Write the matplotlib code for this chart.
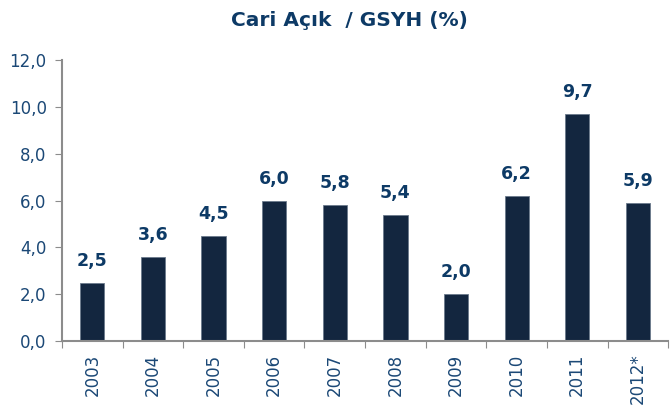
import matplotlib
matplotlib.use("Agg")
import matplotlib.pyplot as plt

years = ["2003", "2004", "2005", "2006", "2007", "2008", "2009", "2010", "2011", "2012*"]
values = [2.5, 3.6, 4.5, 6.0, 5.8, 5.4, 2.0, 6.2, 9.7, 5.9]
value_labels = ["2,5", "3,6", "4,5", "6,0", "5,8", "5,4", "2,0", "6,2", "9,7", "5,9"]
yticks = [0, 2, 4, 6, 8, 10, 12]
ytick_labels = ["0,0", "2,0", "4,0", "6,0", "8,0", "10,0", "12,0"]

bar_color = "#13263f"
text_color = "#1b4876"
title_color = "#0d3a66"
axis_color = "#8c8c8c"

fig = plt.figure(figsize=(6.72, 4.08), dpi=100)
ax = fig.add_axes([0.0923, 0.164, 0.902, 0.689])

x = list(range(len(years)))
ax.bar(x, values, width=0.40, color=bar_color, edgecolor="#6b7a8c",
       linewidth=0.6, zorder=2)
for xi, v, lab in zip(x, values, value_labels):
    ax.text(xi, v + 0.55, lab, ha="center", va="bottom", fontsize=12.5,
            fontweight="bold", color=title_color)

ax.set_xlim(-0.5, len(years) - 0.5)
ax.set_ylim(0, 12)
ax.set_yticks(yticks)
ax.set_yticklabels(ytick_labels, fontsize=12, color=text_color)
ax.set_xticks([i - 0.5 for i in range(len(years) + 1)], minor=False)
ax.set_xticklabels([])
ax.set_xticks(x, minor=True)
ax.set_xticklabels(years, minor=True, rotation=90, fontsize=12, color=text_color)
ax.tick_params(axis="x", which="minor", length=0, pad=9)
ax.tick_params(axis="x", which="major", length=5, color=axis_color, direction="out")
ax.tick_params(axis="y", length=5, color=axis_color, pad=6)

for s in ["top", "right"]:
    ax.spines[s].set_visible(False)
for s in ["left", "bottom"]:
    ax.spines[s].set_color(axis_color)
    ax.spines[s].set_linewidth(1.5)

fig.text(0.52, 0.95, "Cari Açık  / GSYH (%)", ha="center", va="center",
         fontsize=14.5, fontweight="bold", color=title_color)

fig.savefig("out.png", dpi=100)
